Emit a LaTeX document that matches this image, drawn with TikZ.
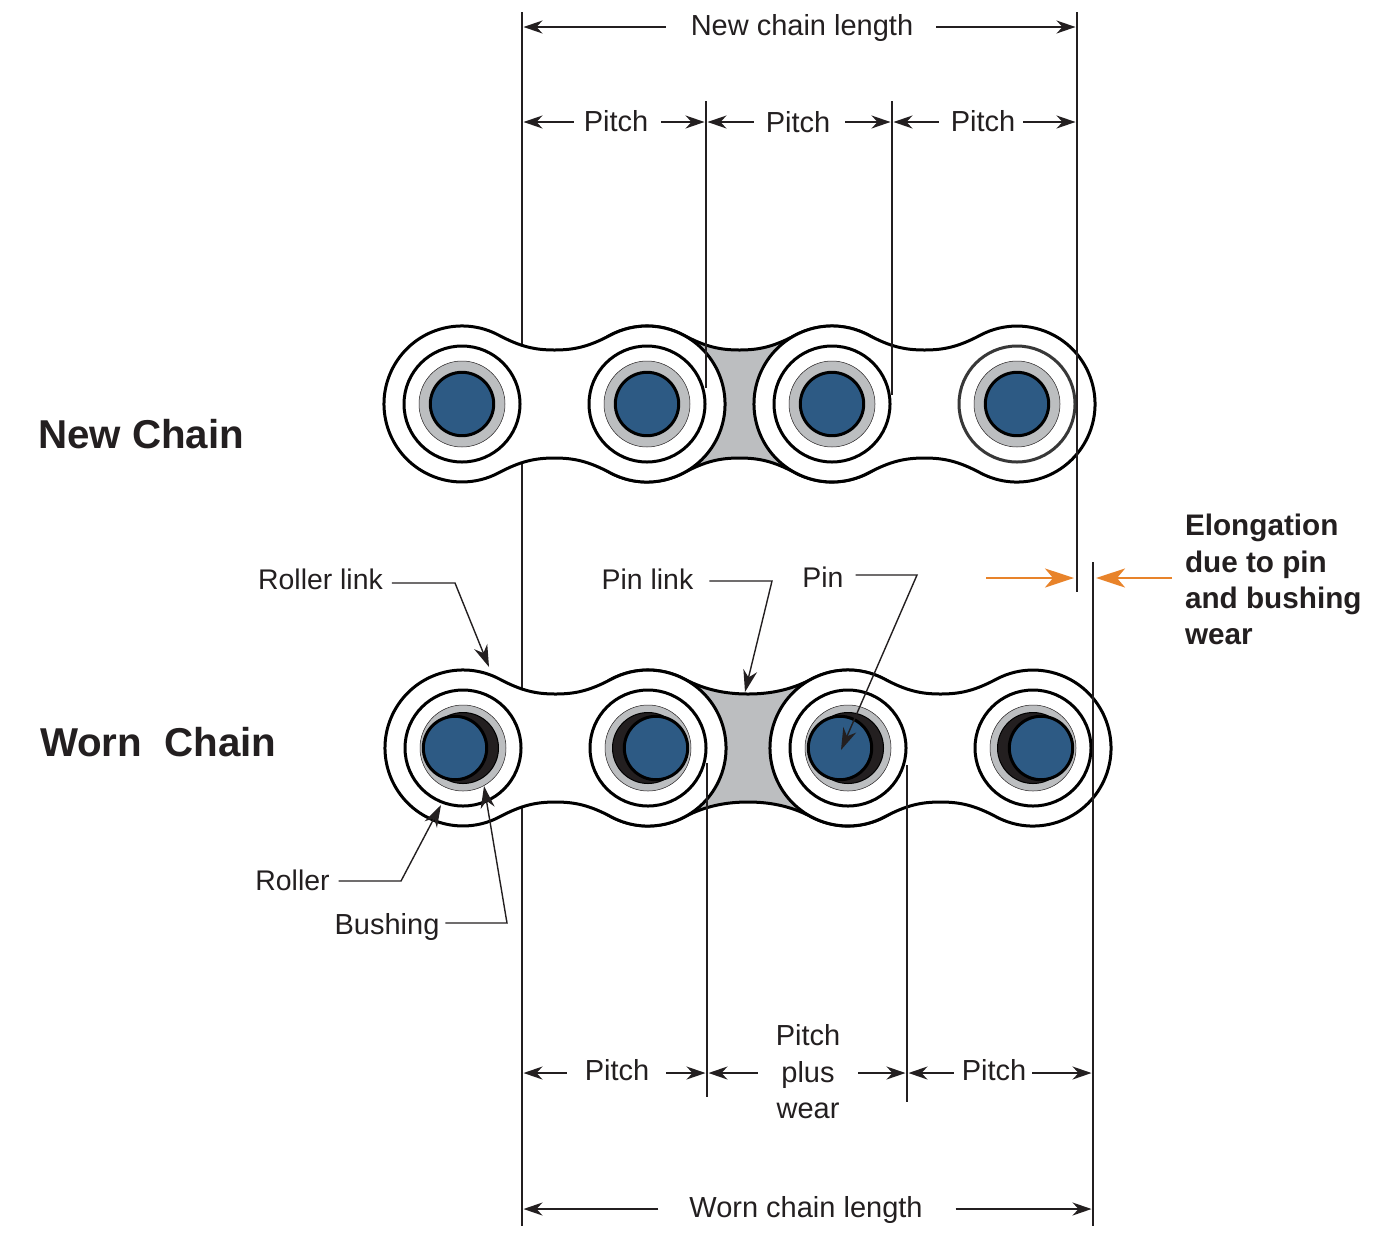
\documentclass[tikz,border=0pt]{standalone}
\usepackage{fontspec}
\setmainfont{Liberation Sans}
\usetikzlibrary{arrows.meta}
\definecolor{ink}{HTML}{231F20}
\definecolor{pinblue}{HTML}{2D5A84}
\definecolor{plate}{HTML}{BCBEC0}
\definecolor{wearorange}{HTML}{E8832A}
\tikzset{
  x=1pt,y=-1pt,
  linkline/.style={draw=black,line width=3pt},
  rollerring/.style={draw=black,line width=3pt,fill=white},
  bushring/.style={draw=ink,line width=0.5pt,fill=plate},
  pinring/.style={draw=black,line width=3pt,fill=pinblue},
  darkpin/.style={draw=black,line width=1pt,fill=ink},
  vline/.style={draw=ink,line width=1.4pt},
  dimarrow/.style={draw=ink,line width=1.4pt,shorten >=1.5pt,-{Stealth[length=19pt,width=13pt,inset=6pt]}},
  callout/.style={draw=ink,line width=1.4pt,line join=miter,-{Stealth[length=22pt,width=14pt,inset=7pt]}},
  orangearrow/.style={draw=wearorange,line width=2.6pt,-{Stealth[length=29pt,width=19pt,inset=8pt]}},
  lab/.style={inner sep=0pt,outer sep=0pt,text=ink,font=\fontsize{29}{36.5}\selectfont},
  partlab/.style={lab,font=\fontsize{28.4}{36.5}\selectfont},
  headlab/.style={inner sep=0pt,outer sep=0pt,text=ink,font=\fontsize{40.3}{46}\selectfont\bfseries},
  notelab/.style={inner sep=0pt,outer sep=0pt,text=ink,align=left,font=\fontsize{29.7}{36.2}\selectfont\bfseries},
}
\newcommand{\linkshape}[4]{%
  \pgfmathsetmacro\xa{#1}\pgfmathsetmacro\xb{#1+#3}\pgfmathsetmacro\xm{#1+#3/2}\def\yc{#2}%
  \draw[linkline,fill=#4] (\xa+36.6,\yc-68.9)
    arc[start angle=-62,end angle=-298,radius=78]
    .. controls (\xa+58.6,\yc+57.2) and (\xm-19.5,\yc+54) .. (\xm,\yc+54)
    .. controls (\xm+19.5,\yc+54) and (\xb-58.6,\yc+57.2) .. (\xb-36.6,\yc+68.9)
    arc[start angle=118,end angle=-118,radius=78]
    .. controls (\xb-58.6,\yc-57.2) and (\xm+19.5,\yc-54) .. (\xm,\yc-54)
    .. controls (\xm-19.5,\yc-54) and (\xa+58.6,\yc-57.2) .. (\xa+36.6,\yc-68.9) -- cycle;
}
\newcommand{\newjoint}[1]{%
  \draw[rollerring] (#1,404) circle[radius=58];
  \draw[bushring] (#1,404) circle[radius=43];
  \draw[pinring] (#1,404) circle[radius=31.7];
}
\newcommand{\wornjoint}[2]{%
  \draw[rollerring] (#1,748) circle[radius=58];
  \draw[bushring] (#1,748) circle[radius=43];
  \draw[darkpin] (#1,748) circle[radius=35.5];
  \draw[pinring] (#2,748) circle[radius=31.7];
}
\begin{document}
\begin{tikzpicture}
\useasboundingbox (0,0) rectangle (1380,1248);
% named ends of the extension lines
\coordinate (aT) at (522,12);    \coordinate (aB) at (522,1226);
\coordinate (bT) at (706,101);   \coordinate (bB) at (706,388);
\coordinate (cT) at (892,101);   \coordinate (cB) at (892,395);
\coordinate (dT) at (1077,12);   \coordinate (dB) at (1077,592);
\coordinate (eT) at (707,763);   \coordinate (eB) at (707,1097);
\coordinate (fT) at (907,765);   \coordinate (fB) at (907,1102);
\coordinate (gT) at (1093,562);  \coordinate (gB) at (1093,1226);
\draw[vline] (aT) -- (aB);
% new chain
\linkshape{647}{404}{185}{plate}
\linkshape{462}{404}{185}{white}
\linkshape{832}{404}{185}{white}
\newjoint{462}\newjoint{647}\newjoint{832}
\draw[rollerring,draw=black!78] (1017,404) circle[radius=58];
\draw[bushring] (1017,404) circle[radius=43];
\draw[pinring] (1017,404) circle[radius=31.7];
% worn chain
\linkshape{648}{748}{200}{plate}
\linkshape{463}{748}{185}{white}
\linkshape{848}{748}{185}{white}
\wornjoint{463}{455}\wornjoint{648}{656}\wornjoint{848}{840}\wornjoint{1033}{1041}
% extension lines above the chain
\draw[vline] (bT) -- (bB);
\draw[vline] (cT) -- (cB);
\draw[vline] (dT) -- (dB);
\draw[vline] (eT) -- (eB);
\draw[vline] (fT) -- (fB);
\draw[vline] (gT) -- (gB);
% headings
\node[headlab,anchor=base west] (hNew) at (38,448) {New Chain};
\node[headlab,anchor=base west] (hWorn) at (40,756) {Worn\ \ Chain};
% dimension labels
\node[lab,anchor=base] (lNew) at (802,35) {New chain length};
\node[lab,anchor=base] (p1) at (616,131) {Pitch};
\node[lab,anchor=base] (p2) at (798,132) {Pitch};
\node[lab,anchor=base] (p3) at (983,131) {Pitch};
\node[lab,anchor=base] (q1) at (617,1080) {Pitch};
\node[lab,anchor=center,align=center] (q2) at (808,1072) {Pitch\\plus\\wear};
\node[lab,anchor=base] (q3) at (994,1080) {Pitch};
\node[lab,anchor=base] (lWorn) at (806,1217) {Worn chain length};
% heights of the dimension arrows
\coordinate (yNew) at (0,27);
\coordinate (yP) at (0,122);
\coordinate (yQ) at (0,1073);
\coordinate (yWorn) at (0,1209);
\draw[dimarrow] ([xshift=-25pt]lNew.west |- yNew) -- (aT |- yNew);
\draw[dimarrow] ([xshift=23pt]lNew.east |- yNew) -- (dT |- yNew);
\draw[dimarrow] ([xshift=-10pt]p1.west |- yP) -- (aT |- yP);
\draw[dimarrow] ([xshift=13pt]p1.east |- yP) -- (bT |- yP);
\draw[dimarrow] ([xshift=-12pt]p2.west |- yP) -- (bT |- yP);
\draw[dimarrow] ([xshift=15pt]p2.east |- yP) -- (cT |- yP);
\draw[dimarrow] ([xshift=-12pt]p3.west |- yP) -- (cT |- yP);
\draw[dimarrow] ([xshift=8pt]p3.east |- yP) -- (dT |- yP);
\draw[dimarrow] ([xshift=-18pt]q1.west |- yQ) -- (aT |- yQ);
\draw[dimarrow] ([xshift=17pt]q1.east |- yQ) -- (eT |- yQ);
\draw[dimarrow] ([xshift=-18pt]q2.west |- yQ) -- (eT |- yQ);
\draw[dimarrow] ([xshift=18pt]q2.east |- yQ) -- (fT |- yQ);
\draw[dimarrow] ([xshift=-8pt]q3.west |- yQ) -- (fT |- yQ);
\draw[dimarrow] ([xshift=6pt]q3.east |- yQ) -- (gT |- yQ);
\draw[dimarrow] ([xshift=-31pt]lWorn.west |- yWorn) -- (aT |- yWorn);
\draw[dimarrow] ([xshift=33pt]lWorn.east |- yWorn) -- (gT |- yWorn);
% part labels and callouts
\node[partlab,anchor=base] (nRollerLink) at (320.5,589) {Roller link};
\node[partlab,anchor=base] (nPinLink) at (647.5,589) {Pin link};
\node[partlab,anchor=base] (nPin) at (823,587) {Pin};
\node[partlab,anchor=base] (nRoller) at (292.5,890) {Roller};
\node[lab,anchor=base] (nBushing) at (387,934) {Bushing};
\coordinate (kA) at (455,583);  \coordinate (tA) at (489,667);
\coordinate (kB) at (772,581);  \coordinate (tB) at (745,692);
\coordinate (kC) at (917,575);  \coordinate (tC) at (841,750);
\coordinate (kD) at (401,881);  \coordinate (tD) at (441,805);
\coordinate (kE) at (507,923);  \coordinate (tE) at (484,786);
\draw[callout] ([xshift=9pt]nRollerLink.east |- kA) -- (kA) -- (tA);
\draw[callout] ([xshift=16pt]nPinLink.east |- kB) -- (kB) -- (tB);
\draw[callout] ([xshift=12pt]nPin.east |- kC) -- (kC) -- (tC);
\draw[callout] ([xshift=9pt]nRoller.east |- kD) -- (kD) -- (tD);
\draw[callout] ([xshift=6pt]nBushing.east |- kE) -- (kE) -- (tE);
% elongation note
\node[notelab,anchor=base west] (note) at (1185,644.5) {Elongation\\due to pin\\and bushing\\wear};
\coordinate (oL) at (986,578);  \coordinate (oLt) at (1074,578);
\coordinate (oR) at (1172,578); \coordinate (oRt) at (1096,578);
\draw[orangearrow] (oL) -- (oLt);
\draw[orangearrow] (oR) -- (oRt);
\end{tikzpicture}
\end{document}
